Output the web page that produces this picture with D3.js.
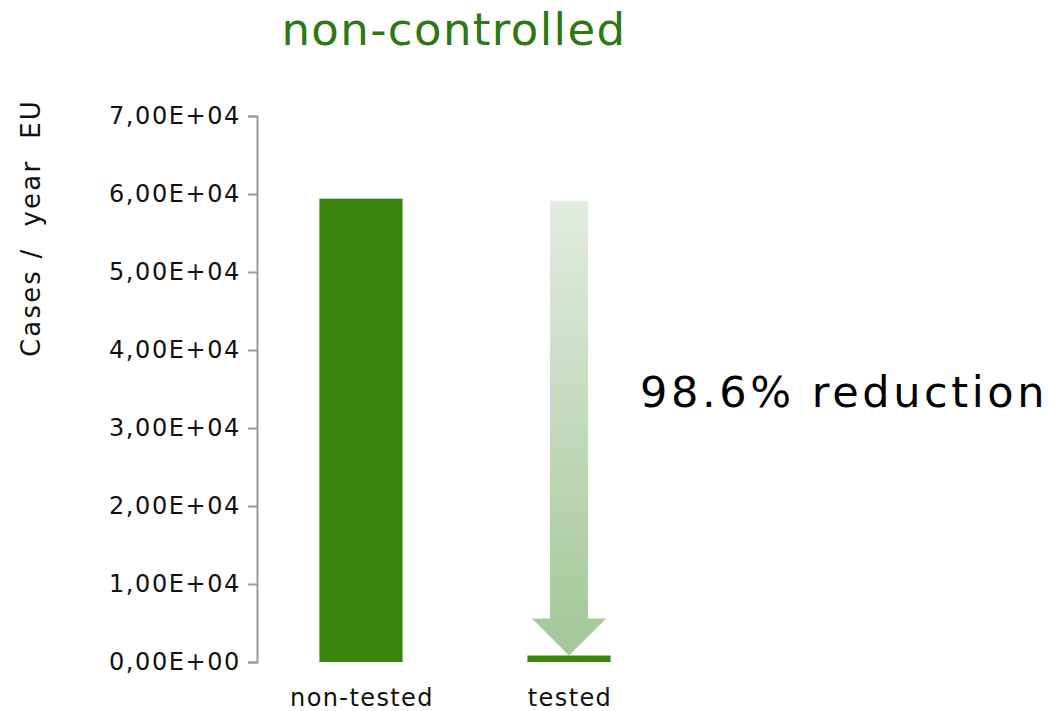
<!DOCTYPE html>
<html>
<head>
<meta charset="utf-8">
<script src="https://cdn.jsdelivr.net/npm/d3@7"></script>
<style>
  html, body { margin: 0; padding: 0; background: #fff; }
  svg { display: block; }
  text { font-family: "DejaVu Sans", Verdana, sans-serif; }
</style>
</head>
<body>
<svg id="chart" width="1050" height="711"></svg>
<script>
// Annual cases in the EU, non-controlled scenario
const categories = ["non-tested", "tested"];
const caseValues = [59400, 832];
const yTicks = [0, 10000, 20000, 30000, 40000, 50000, 60000, 70000];
const yTickLabels = ["0,00E+00", "1,00E+04", "2,00E+04", "3,00E+04", "4,00E+04", "5,00E+04", "6,00E+04", "7,00E+04"];
const reductionLabel = "98.6% reduction";
const titleText = "non-controlled";
const yAxisLabel = "Cases /  year  EU";

const svg = d3.select("#chart");
const margin = { left: 257, top: 116, bottom: 662 };

const y = d3.scaleLinear().domain([0, 70000]).range([margin.bottom, margin.top]);
const x = d3.scaleBand().domain(categories).range([257, 673]).paddingInner(0.6).paddingOuter(0.3);

const green = "#3b860e";

// Title
svg.append("text")
  .attr("x", 454).attr("y", 45)
  .attr("text-anchor", "middle")
  .attr("fill", "#2f7614")
  .attr("font-size", 45)
  .attr("letter-spacing", 1.4)
  .text(titleText);

// Y axis
const yAxis = d3.axisLeft(y)
  .tickValues(yTicks)
  .tickFormat((d, i) => yTickLabels[i])
  .tickSizeOuter(0)
  .tickSize(9)
  .tickPadding(7);

const gy = svg.append("g")
  .attr("transform", `translate(${margin.left},0)`)
  .call(yAxis);
gy.select(".domain").attr("stroke", "#999").attr("stroke-width", 2);
gy.selectAll(".tick line").attr("stroke", "#999").attr("stroke-width", 2);
gy.selectAll(".tick text")
  .attr("font-size", 24)
  .attr("letter-spacing", 1.6)
  .attr("fill", "#111")
  .attr("font-family", "DejaVu Sans, Verdana, sans-serif");

// Y axis label
svg.append("text")
  .attr("transform", "translate(40,228) rotate(-90)")
  .attr("text-anchor", "middle")
  .attr("font-size", 26)
  .attr("letter-spacing", 2.2)
  .attr("fill", "#111")
  .style("white-space", "pre")
  .text(yAxisLabel);

// Category labels
svg.selectAll(".cat")
  .data(categories)
  .enter().append("text")
  .attr("class", "cat")
  .attr("x", d => x(d) + x.bandwidth() / 2 + 1)
  .attr("y", 706)
  .attr("text-anchor", "middle")
  .attr("font-size", 24)
  .attr("letter-spacing", 1.4)
  .attr("fill", "#111")
  .text(d => d);

// Reduction arrow gradient
const defs = svg.append("defs");
const grad = defs.append("linearGradient")
  .attr("id", "arrowGrad")
  .attr("x1", 0).attr("y1", 0).attr("x2", 0).attr("y2", 1);
grad.append("stop").attr("offset", "0%").attr("stop-color", "#e2ece0");
grad.append("stop").attr("offset", "100%").attr("stop-color", "#a2c797");

// Arrow from the non-tested level down to the tested level
const cx = x("tested") + x.bandwidth() / 2;
const yTop = y(caseValues[0]) + 2;
const yTip = y(caseValues[1]);
const shaftHalf = 19, headHalf = 37, headLen = 37;
const arrowPath = d3.path();
arrowPath.moveTo(cx - shaftHalf, yTop);
arrowPath.lineTo(cx + shaftHalf, yTop);
arrowPath.lineTo(cx + shaftHalf, yTip - headLen);
arrowPath.lineTo(cx + headHalf, yTip - headLen);
arrowPath.lineTo(cx, yTip);
arrowPath.lineTo(cx - headHalf, yTip - headLen);
arrowPath.lineTo(cx - shaftHalf, yTip - headLen);
arrowPath.closePath();
svg.append("path")
  .attr("d", arrowPath.toString())
  .attr("fill", "url(#arrowGrad)");

// Bars
svg.selectAll(".bar")
  .data(categories)
  .enter().append("rect")
  .attr("class", "bar")
  .attr("x", d => x(d))
  .attr("width", x.bandwidth())
  .attr("y", (d, i) => y(caseValues[i]))
  .attr("height", (d, i) => y(0) - y(caseValues[i]))
  .attr("fill", green);

// Reduction label
svg.append("text")
  .attr("x", 640).attr("y", 407)
  .attr("font-size", 43)
  .attr("letter-spacing", 3.6)
  .attr("fill", "#000")
  .text(reductionLabel);
</script>
</body>
</html>
